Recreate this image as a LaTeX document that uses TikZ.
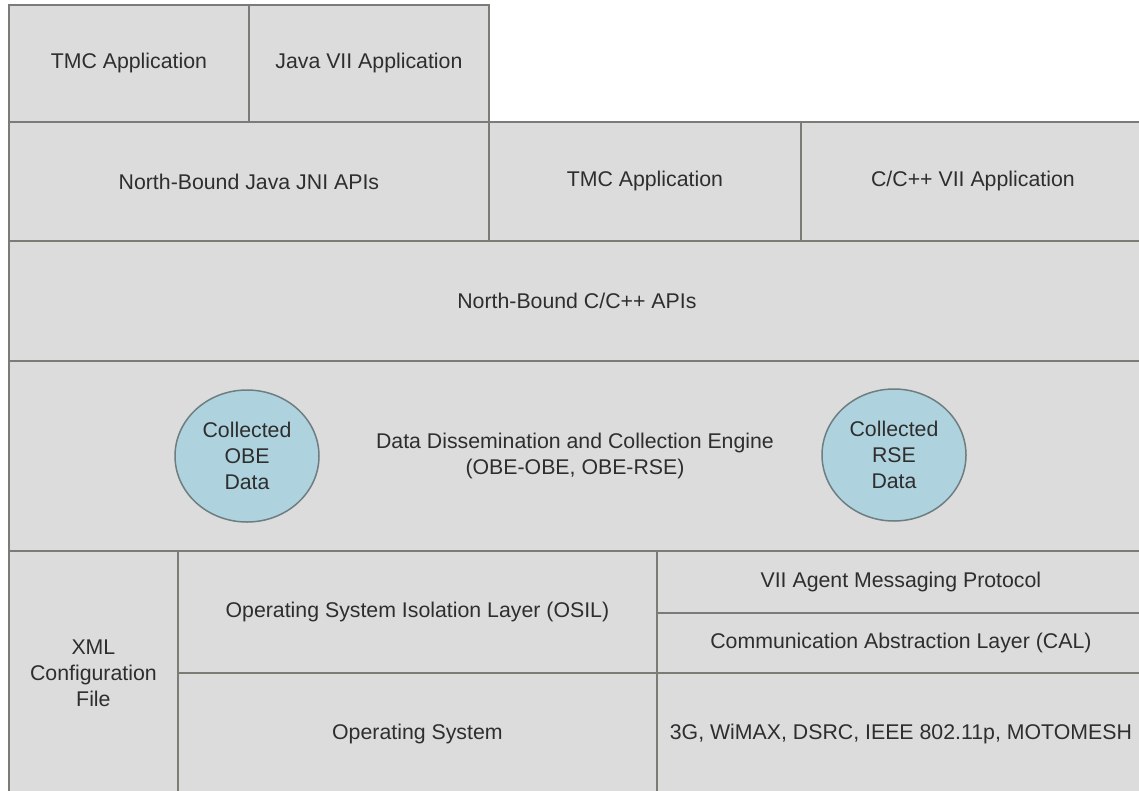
\documentclass[tikz,border=0pt]{standalone}
\usepackage{fontspec}
\setmainfont{Liberation Sans}
\usetikzlibrary{shapes.geometric}
\definecolor{boxfill}{HTML}{DCDCDC}
\definecolor{boxline}{HTML}{7C7C76}
\definecolor{txt}{HTML}{2E2E2E}
\definecolor{ballfill}{HTML}{AED3DE}
\definecolor{ballline}{HTML}{6E7E80}
\begin{document}
\begin{tikzpicture}[x=1pt,y=-1pt,
  lbl/.style={text=txt, font=\fontsize{21.3}{26}\selectfont, align=center, inner sep=0pt},
  box/.style={lbl, draw=boxline, fill=boxfill, line width=1.8pt, anchor=north west},
  ball/.style={lbl, ellipse, draw=ballline, fill=ballfill, line width=1.5pt, minimum width=144pt, minimum height=132pt}]
\useasboundingbox (0,0) rectangle (1139,790);
\node[box, minimum width=240pt, minimum height=117pt] (tmcA) at (8,4) {TMC Application};
\node[box, minimum width=240pt, minimum height=117pt] (java) at (248,4) {Java VII Application};
\node[box, minimum width=480pt, minimum height=119pt] (jni) at (8,121) {North-Bound Java JNI APIs};
\node[box, minimum width=312pt, minimum height=119pt] (tmcB) at (488,121) {TMC Application};
\node[box, minimum width=344pt, minimum height=119pt] (cpp) at (800,121) {C/C++ VII Application};
\node[box, minimum width=1136pt, minimum height=120pt] (capi) at (8,240) {North-Bound C/C++ APIs};
\node[box, minimum width=1136pt, minimum height=190pt] (ddce) at (8,360) {};
\node[lbl] (ddcetext) at (575,456) {Data Dissemination and Collection Engine\\(OBE-OBE, OBE-RSE)};
\node[ball] (obe) at (247,456) {Collected\\OBE\\Data};
\node[ball] (rse) at (894,455) {Collected\\RSE\\Data};
\node[box, minimum width=169pt, minimum height=244pt] (xml) at (8,550) {XML\\Configuration\\File};
\node[box, minimum width=479pt, minimum height=122pt] (osil) at (177,550) {Operating System Isolation Layer (OSIL)};
\node[box, minimum width=479pt, minimum height=122pt] (os) at (177,672) {Operating System};
\node[box, minimum width=488pt, minimum height=62pt] (vii) at (656,550) {VII Agent Messaging Protocol};
\node[box, minimum width=488pt, minimum height=60pt] (cal) at (656,612) {Communication Abstraction Layer (CAL)};
\node[box, minimum width=488pt, minimum height=122pt] (net) at (656,672) {3G, WiMAX, DSRC, IEEE 802.11p, MOTOMESH};
\end{tikzpicture}
\end{document}
